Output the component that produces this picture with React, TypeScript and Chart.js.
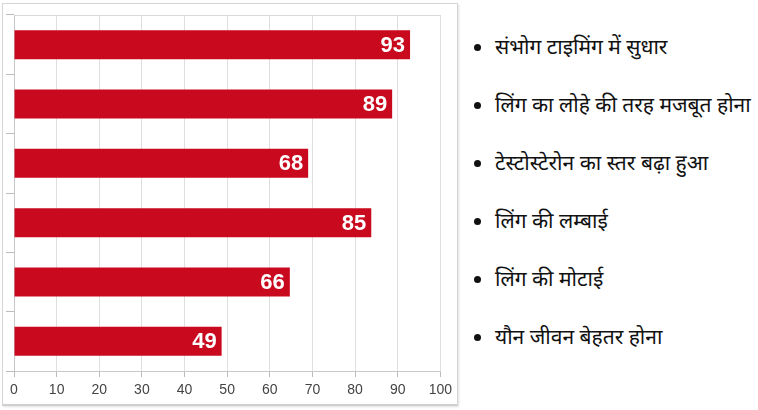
import { useEffect, useRef } from "react";
import { Chart, registerables, ChartConfiguration, Plugin } from "chart.js";

Chart.register(...registerables);

const categories = [
  "संभोग टाइमिंग में सुधार",
  "लिंग का लोहे की तरह मजबूत होना",
  "टेस्टोस्टेरोन का स्तर बढ़ा हुआ",
  "लिंग की लम्बाई",
  "लिंग की मोटाई",
  "यौन जीवन बेहतर होना",
];
// bar lengths as drawn in the picture, and the numbers printed on them
const barLengths = [92.9, 88.7, 69, 83.8, 64.7, 48.7];
const valueLabels = ["93", "89", "68", "85", "66", "49"];
const axisMin = 0;
const axisMax = 100;
const axisStep = 10;

// white value text at the end of each bar, plus the top border of the plot
const barLabels: Plugin<"bar"> = {
  id: "barLabels",
  afterDatasetsDraw(chart) {
    const { ctx, chartArea } = chart;
    ctx.save();
    ctx.strokeStyle = "#d9d9d9";
    ctx.lineWidth = 1;
    ctx.beginPath();
    ctx.moveTo(chartArea.left, chartArea.top + 0.5);
    ctx.lineTo(chartArea.right, chartArea.top + 0.5);
    ctx.stroke();

    const meta = chart.getDatasetMeta(0);
    ctx.fillStyle = "#ffffff";
    ctx.font = "bold 22px 'Liberation Sans', Arial, sans-serif";
    ctx.textAlign = "right";
    ctx.textBaseline = "middle";
    meta.data.forEach((bar, i) => {
      const { x, y } = bar.getProps(["x", "y"], true);
      ctx.fillText(valueLabels[i], x - 5, y + 1);
    });
    ctx.restore();
  },
};

function ScoreChart() {
  const canvasRef = useRef<HTMLCanvasElement>(null);
  const chartRef = useRef<Chart | null>(null);

  useEffect(() => {
    if (!canvasRef.current) return;
    if (chartRef.current) chartRef.current.destroy();

    const config: ChartConfiguration<"bar"> = {
      type: "bar",
      data: {
        labels: categories,
        datasets: [
          {
            data: barLengths,
            backgroundColor: "#c9091d",
            borderWidth: 0,
            barPercentage: 0.49,
            categoryPercentage: 1,
          },
        ],
      },
      options: {
        indexAxis: "y",
        animation: false,
        responsive: false,
        maintainAspectRatio: false,
        layout: { padding: { left: 3, top: 11, right: 16, bottom: 0 } },
        plugins: {
          legend: { display: false },
          tooltip: { enabled: false },
        },
        scales: {
          x: {
            min: axisMin,
            max: axisMax,
            ticks: {
              stepSize: axisStep,
              color: "#444",
              padding: 5,
              font: { family: "'Liberation Sans', Arial, sans-serif", size: 14 },
            },
            grid: { color: "#dedede", tickLength: 6, tickColor: "#bbb" },
            border: { color: "#c8c8c8" },
            afterFit: scale => {
              scale.height = 33;
            },
          },
          y: {
            ticks: { display: false },
            grid: { drawOnChartArea: false, tickLength: 8, tickColor: "#bbb" },
            border: { color: "#c8c8c8" },
          },
        },
      },
      plugins: [barLabels],
    };

    chartRef.current = new Chart(canvasRef.current, config);
    return () => {
      if (chartRef.current) chartRef.current.destroy();
    };
  }, []);

  return <canvas ref={canvasRef} width={454} height={400} style={{ display: "block" }} />;
}

export default function App() {
  return (
    <div style={{ position: "fixed", left: 0, top: 0, width: 758, height: 410, background: "#fff", overflow: "hidden" }}>
      <div
        style={{
          position: "absolute",
          left: 2,
          top: 3,
          width: 454,
          height: 400,
          border: "1px solid #d6d6d6",
          borderBottom: "2px solid #cfcfcf",
          boxShadow: "1px 1px 2px rgba(0,0,0,0.12)",
        }}
      >
        <ScoreChart />
      </div>
      <ul
        style={{
          position: "absolute",
          left: 466,
          top: 17,
          margin: 0,
          padding: "0 0 0 29px",
          listStyle: "disc",
          fontFamily: "'Noto Sans', 'Noto Sans Devanagari', sans-serif",
          fontSize: 21,
          color: "#111",
        }}
      >
        {categories.map(c => (
          <li key={c} style={{ height: 58, lineHeight: "58px", whiteSpace: "nowrap" }}>
            {c}
          </li>
        ))}
      </ul>
    </div>
  );
}
